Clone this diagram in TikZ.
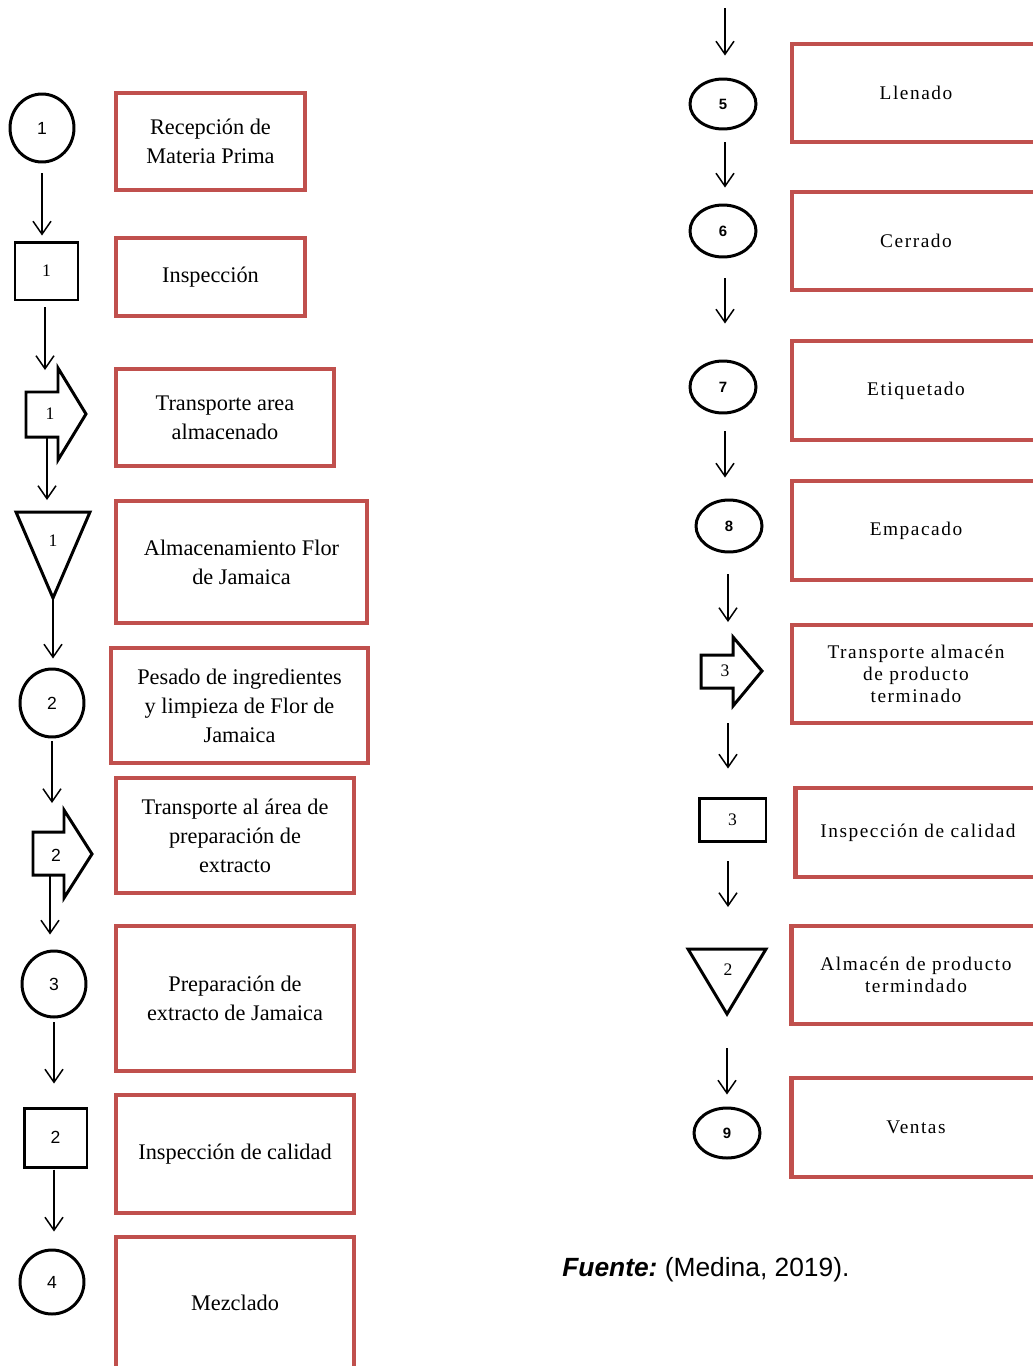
\documentclass[tikz,border=0pt]{standalone}
\usepackage{fontspec}
\setmainfont{Liberation Serif}
\setsansfont{Liberation Sans}
\newfontfamily\spacedserif[LetterSpace=8]{Liberation Serif}
\usetikzlibrary{arrows.meta,shapes.geometric}
\definecolor{boxred}{RGB}{192,80,77}

\begin{document}
\begin{tikzpicture}[x=0.02cm, y=-0.02cm,
  proc/.style={draw=boxred, line width=2.6pt, align=center, inner sep=0pt,
    font=\fontsize{12.7}{16.5}\selectfont},
  procr/.style={proc, font=\spacedserif\fontsize{11}{12.5}\selectfont},
  opcirc/.style={draw, ellipse, line width=1.7pt, inner sep=0pt,
    font=\sffamily\fontsize{10}{12}\selectfont},
  opell/.style={opcirc, font=\sffamily\bfseries\fontsize{8.5}{10}\selectfont},
  insp/.style={draw, rectangle, line width=1.7pt, inner sep=0pt,
    font=\fontsize{10}{12}\selectfont},
  symb/.style={line width=1.7pt, line join=miter},
  num/.style={inner sep=0pt, font=\fontsize{10}{12}\selectfont},
  flow/.style={line width=0.85pt, -{Straight Barb[length=0.26cm,width=0.36cm]}}]

  \useasboundingbox (0,0) rectangle (1033,1366);

  % left column
  \node[opcirc, minimum width=1.28cm, minimum height=1.36cm] (c1) at (42,128) {1};
  \node[proc, minimum width=3.78cm, minimum height=1.94cm] (b1) at (210.5,141.5) {Recepción de\\Materia Prima};

  \node[insp, minimum width=1.26cm, minimum height=1.16cm] (s1) at (46.5,271) {1};
  \node[proc, minimum width=3.78cm, minimum height=1.56cm] (b2) at (210.5,277) {Inspección};

  \draw[symb] (26,392) -- (58,392) -- (58,368) -- (86,414) -- (58,460) -- (58,437) -- (26,437) -- cycle;
  \node[num] (tr1) at (50,414) {1};
  \coordinate (tr1in) at (45,392);
  \coordinate (tr1out) at (47,437);
  \node[proc, minimum width=4.36cm, minimum height=1.94cm] (b3) at (225,417.5) {Transporte area\\almacenado};

  \draw[symb] (16,512) -- (90,512) -- (53,598) -- cycle;
  \node[num] (t1) at (53,541) {1};
  \coordinate (t1top) at (53,512);
  \coordinate (t1tip) at (53,598);
  \node[proc, minimum width=5.02cm, minimum height=2.44cm] (b4) at (241.5,562) {Almacenamiento Flor\\de Jamaica};

  \node[opcirc, minimum width=1.28cm, minimum height=1.36cm] (c2) at (52,703) {2};
  \node[proc, minimum width=5.14cm, minimum height=2.3cm] (b5) at (239.5,705.5) {Pesado de ingredientes\\y limpieza de Flor de\\Jamaica};

  \draw[symb] (33,832) -- (64,832) -- (64,810) -- (92,854) -- (64,898) -- (64,875) -- (33,875) -- cycle;
  \node[num, font=\sffamily\fontsize{10}{12}\selectfont] (tr2) at (56,855) {2};
  \coordinate (tr2in) at (52,832);
  \coordinate (tr2out) at (50,875);
  \node[proc, minimum width=4.76cm, minimum height=2.3cm] (b6) at (235,835.5) {Transporte al área de\\preparación de\\extracto};

  \node[opcirc, minimum width=1.28cm, minimum height=1.32cm] (c3) at (54,984) {3};
  \node[proc, minimum width=4.76cm, minimum height=2.9cm] (b7) at (235,998.5) {Preparación de\\extracto de Jamaica};

  \node[insp, minimum width=1.26cm, minimum height=1.18cm, font=\sffamily\fontsize{10}{12}\selectfont] (s2) at (55.5,1137.5) {2};
  \node[proc, minimum width=4.76cm, minimum height=2.36cm] (b8) at (235,1154) {Inspección de calidad};

  \node[opcirc, minimum width=1.28cm, minimum height=1.28cm] (c4) at (52,1282) {4};
  \node[proc, minimum width=4.76cm, minimum height=2.64cm] (b9) at (235,1303) {Mezclado};

  % right column
  \coordinate (top) at (725,8);
  \node[opell, minimum width=1.32cm, minimum height=1cm] (c5) at (723,104) {5};
  \node[procr, minimum width=4.96cm, minimum height=1.96cm] (b10) at (916,93) {Llenado};

  \node[opell, minimum width=1.32cm, minimum height=1.04cm] (c6) at (723,231) {6};
  \node[procr, minimum width=4.96cm, minimum height=1.96cm] (b11) at (916,241) {Cerrado};

  \node[opell, minimum width=1.32cm, minimum height=1.04cm] (c7) at (723,387) {7};
  \node[procr, minimum width=4.96cm, minimum height=1.98cm] (b12) at (916,390.5) {Etiquetado};

  \node[opell, minimum width=1.32cm, minimum height=1.04cm] (c8) at (729,526) {8};
  \node[procr, minimum width=4.96cm, minimum height=1.98cm] (b13) at (916,530.5) {Empacado};

  \draw[symb] (701,655) -- (733,655) -- (733,637) -- (762,671) -- (733,706) -- (733,688) -- (701,688) -- cycle;
  \node[num] (tr3) at (725,671) {3};
  \coordinate (tr3in) at (728,655);
  \coordinate (tr3out) at (728,688);
  \node[procr, minimum width=4.96cm, minimum height=1.96cm] (b14) at (916,674) {Transporte almacén\\de producto\\terminado};

  \node[insp, minimum width=1.34cm, minimum height=0.86cm] (s3) at (732.5,819.5) {3};
  \node[procr, minimum width=4.9cm, minimum height=1.78cm] (b15) at (918,832.5) {Inspección de calidad};

  \draw[symb] (688,949) -- (766,949) -- (727,1014) -- cycle;
  \node[num] (t2) at (728,970) {2};
  \coordinate (t2top) at (727,949);
  \coordinate (t2tip) at (727,1014);
  \node[procr, minimum width=4.98cm, minimum height=1.96cm] (b16) at (916,975) {Almacén de producto\\termindado};

  \node[opell, minimum width=1.32cm, minimum height=1cm] (c9) at (727,1133) {9};
  \node[procr, minimum width=4.98cm, minimum height=1.98cm] (b17) at (916,1127.5) {Ventas};

  % connectors
  \draw[flow, shorten <=0.2cm, shorten >=0.1cm] (c1.south) -- (c1.south |- s1.north);
  \draw[flow, shorten <=0.12cm, shorten >=0.44cm] (tr1in |- s1.south) -- (tr1in);
  \draw[flow, shorten >=0.24cm] (tr1out) -- (tr1out |- t1top);
  \draw[flow, shorten >=0.18cm] (t1tip) -- (t1tip |- c2.north);
  \draw[flow, shorten <=0.06cm, shorten >=0.58cm] (c2.south) -- (c2.south |- tr2in);
  \draw[flow, shorten >=0.3cm] (tr2out) -- (tr2out |- c3.north);
  \draw[flow, shorten <=0.08cm, shorten >=0.46cm] (c3.south) -- (c3.south |- s2.north);
  \draw[flow, shorten <=0.02cm, shorten >=0.34cm] (c3.south |- s2.south) -- (c3.south |- c4.north);

  \draw[flow, shorten >=0.44cm] (top) -- (top |- c5.north);
  \draw[flow, shorten <=0.24cm, shorten >=0.32cm] (top |- c5.south) -- (top |- c6.north);
  \draw[flow, shorten <=0.4cm, shorten >=0.72cm] (top |- c6.south) -- (top |- c7.north);
  \draw[flow, shorten <=0.34cm, shorten >=0.42cm] (top |- c7.south) -- (top |- c8.north);
  \draw[flow, shorten <=0.42cm, shorten >=0.66cm] (tr3in |- c8.south) -- (tr3in);
  \draw[flow, shorten <=0.7cm, shorten >=0.56cm] (tr3out) -- (tr3out |- s3.north);
  \draw[flow, shorten <=0.38cm, shorten >=0.84cm] (tr3out |- s3.south) -- (tr3out |- t2top);
  \draw[flow, shorten <=0.68cm, shorten >=0.24cm] (t2tip) -- (t2tip |- c9.north);

  \node[anchor=west, inner sep=0pt, font=\sffamily\fontsize{15}{18}\selectfont] (fuente) at (562,1270) {{\bfseries\itshape Fuente:}\ (Medina, 2019).};
\end{tikzpicture}
\end{document}
